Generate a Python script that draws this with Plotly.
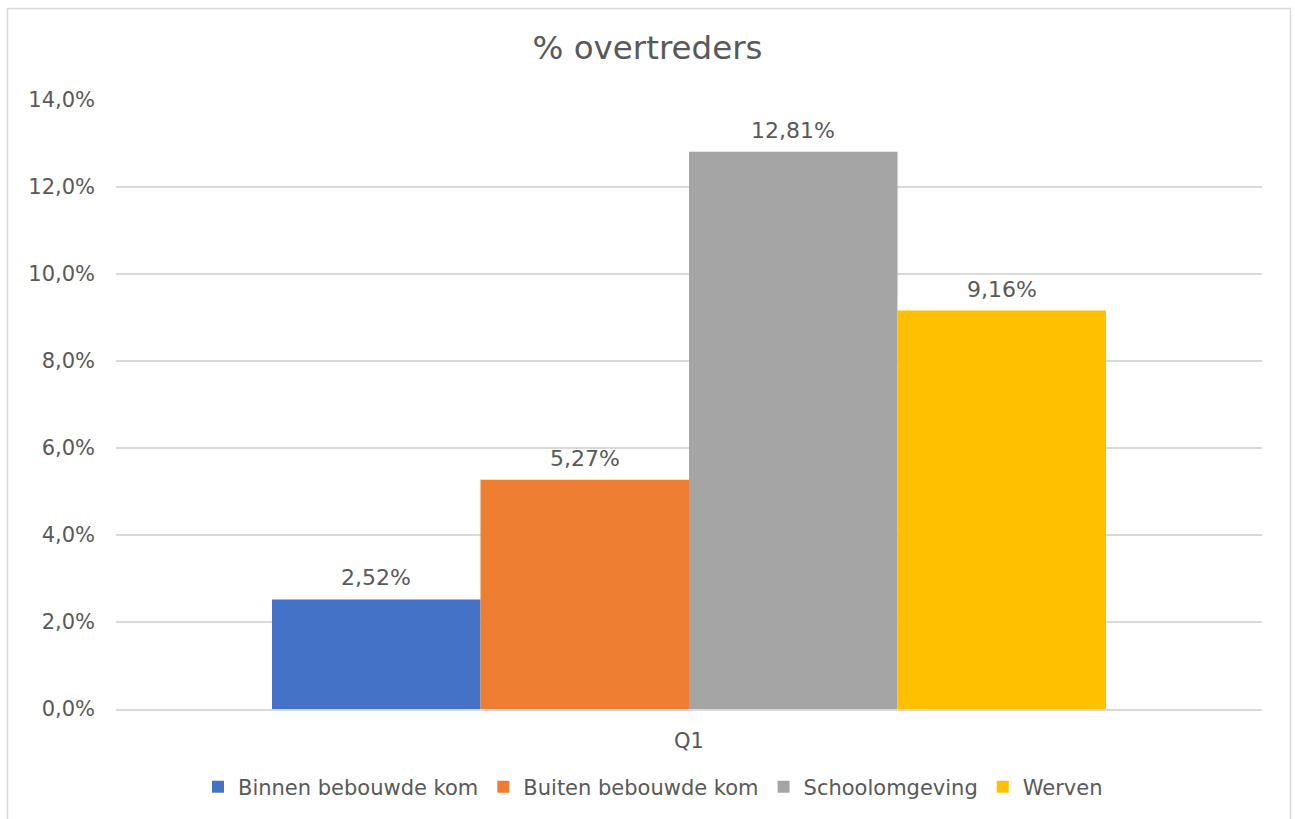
import plotly.graph_objects as go

categories = ["Q1"]
series_names = ["Binnen bebouwde kom", "Buiten bebouwde kom", "Schoolomgeving", "Werven"]
series_values = [0.0252, 0.0527, 0.1281, 0.0916]
series_colors = ["#4472C4", "#ED7D31", "#A5A5A5", "#FFC000"]
y_tick_values = [0, 0.02, 0.04, 0.06, 0.08, 0.10, 0.12, 0.14]

FONT = "DejaVu Sans"
TXT = "#595959"

GROUP = 834 / 1146          # fraction of category occupied by the bar group
BW = GROUP / len(series_names)

fig = go.Figure()
annotations = []
for i, (name, val, col) in enumerate(zip(series_names, series_values, series_colors)):
    off = -GROUP / 2 + i * BW
    fig.add_trace(go.Bar(
        x=categories, y=[val], name=name,
        width=BW, offset=off,
        marker=dict(color=col, line=dict(width=0)),
    ))
    label = f"{val * 100:.2f}".replace(".", ",") + "%"
    annotations.append(dict(
        x=off + BW / 2, y=val, xref="x", yref="y", text=label, showarrow=False,
        yanchor="bottom", xanchor="center", yshift=7,
        font=dict(family=FONT, size=22, color=TXT)))

W, H = 1295, 819
L, R, T, B = 116, 1262, 100, 709
pw, ph = R - L, B - T
def px(x): return (x - L) / pw
def py(y): return (B - y) / ph

fig.update_layout(
    width=W, height=H,
    margin=dict(l=L, r=W - R, t=T, b=H - B),
    paper_bgcolor="white", plot_bgcolor="white",
    separators=", ",
    barmode="overlay",
    title=dict(text="% overtreders", x=0.5, xref="container", xanchor="center",
               y=1 - 48 / H, yref="container", yanchor="middle",
               font=dict(family=FONT, size=32.5, color=TXT)),
    font=dict(family=FONT, color=TXT),
    showlegend=True,
    legend=dict(orientation="h", x=px(653), xanchor="center", y=py(787), yanchor="middle",
                font=dict(family=FONT, size=21, color=TXT), itemwidth=30,
                traceorder="normal"),
    xaxis=dict(showgrid=False, showline=True, linecolor="#D9D9D9", linewidth=1.5,
               range=[-0.5, 0.5],
               ticks="", tickfont=dict(family=FONT, size=21, color=TXT),
               ticklabelstandoff=12),
    yaxis=dict(range=[0, 0.14], tickvals=y_tick_values, tickformat=".1%",
               showgrid=True, gridcolor="#D9D9D9", gridwidth=1.5,
               zeroline=False, showline=False, ticks="",
               tickfont=dict(family=FONT, size=21, color=TXT),
               ticklabelstandoff=20),
    annotations=annotations,
    shapes=[dict(type="rect", xref="paper", yref="paper",
                 x0=px(7.5), x1=px(1290.5), y0=py(830), y1=py(8.5),
                 line=dict(color="#D9D9D9", width=1.5), fillcolor="rgba(0,0,0,0)", layer="below")],
)

fig.write_html("out.html", config={"displayModeBar": False},
               post_script="document.body.style.margin='0px';")
